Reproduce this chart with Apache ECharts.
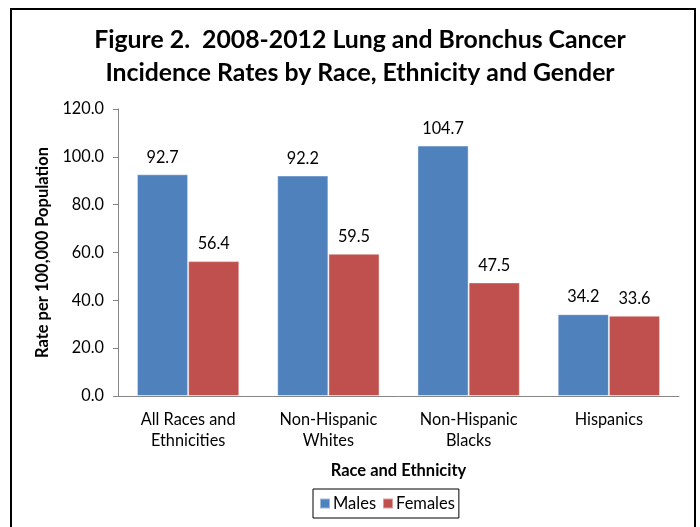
<!DOCTYPE html>
<html>
<head>
<meta charset="utf-8">
<style>
  html, body { margin: 0; padding: 0; background: #fff; }
  #chart { width: 700px; height: 527px; }
</style>
<script src="https://cdn.jsdelivr.net/npm/echarts@6/dist/echarts.min.js"></script>
</head>
<body>
<div id="chart"></div>
<script>
// Categories along the x axis
const categories = ['All Races and\nEthnicities', 'Non-Hispanic\nWhites', 'Non-Hispanic\nBlacks', 'Hispanics'];
// Incidence rates per 100,000 population
const males = [92.7, 92.2, 104.7, 34.2];
const females = [56.4, 59.5, 47.5, 33.6];
// Y axis range
const yMin = 0, yMax = 120, yStep = 20;

const FONT = 'Lato, "Open Sans", "Noto Sans", sans-serif';
const chart = echarts.init(document.getElementById('chart'), null, { renderer: 'canvas' });

chart.setOption({
  backgroundColor: '#fff',
  animation: false,
  textStyle: { fontFamily: FONT, color: '#000' },
  title: {
    text: 'Figure 2.  2008-2012 Lung and Bronchus Cancer\nIncidence Rates by Race, Ethnicity and Gender',
    left: 355, textAlign: 'center', top: 19,
    textStyle: { fontFamily: FONT, fontSize: 24.8, fontWeight: 'bold', color: '#000', lineHeight: 33 }
  },
  graphic: [{
    type: 'rect', silent: true,
    shape: { x: 11, y: 9, width: 684, height: 540 },
    style: { fill: 'none', stroke: '#000', lineWidth: 2 }
  }],
  legend: {
    left: 313, top: 489,
    data: ['Males', 'Females'],
    icon: 'rect', itemWidth: 10, itemHeight: 10, itemGap: 6,
    borderColor: '#000', borderWidth: 1, padding: [6, 4, 6, 6],
    textStyle: { fontFamily: FONT, fontSize: 16.5, color: '#000', padding: [0, 0, 0, -2] }
  },
  grid: { left: 118, right: 21, top: 109, bottom: 131, containLabel: false },
  xAxis: {
    type: 'category', data: categories,
    name: 'Race and Ethnicity', nameLocation: 'middle', nameGap: 66,
    nameTextStyle: { fontFamily: FONT, fontSize: 16.5, fontWeight: 'bold', color: '#000' },
    axisLine: { lineStyle: { color: '#868686', width: 1 } },
    axisTick: { show: false },
    axisLabel: { fontFamily: FONT, fontSize: 16.3, color: '#000', lineHeight: 21, margin: 13 }
  },
  yAxis: {
    type: 'value', min: yMin, max: yMax, interval: yStep,
    name: 'Rate per 100,000 Population', nameLocation: 'middle', nameGap: 58,
    nameTextStyle: { fontFamily: FONT, fontSize: 16.5, fontWeight: 'bold', color: '#000' },
    axisLine: { show: true, lineStyle: { color: '#868686', width: 1 } },
    axisTick: { show: true, length: 5, lineStyle: { color: '#868686' } },
    splitLine: { show: false },
    axisLabel: { fontFamily: FONT, fontSize: 16.3, color: '#000', margin: 14,
      formatter: v => v.toFixed(1) }
  },
  series: [{
    name: 'Males', type: 'bar', data: males,
    barGap: '0%', barCategoryGap: '27%',
    itemStyle: { color: '#4F81BD', borderColor: 'rgba(255,255,255,0.45)', borderWidth: 1 },
    label: { show: true, position: 'top', distance: 9, fontFamily: FONT, fontSize: 16.3, color: '#000',
      formatter: p => p.value.toFixed(1) }
  }, {
    name: 'Females', type: 'bar', data: females,
    itemStyle: { color: '#C0504D', borderColor: 'rgba(255,255,255,0.45)', borderWidth: 1 },
    label: { show: true, position: 'top', distance: 9, fontFamily: FONT, fontSize: 16.3, color: '#000',
      formatter: p => p.value.toFixed(1) }
  }]
});
</script>
</body>
</html>
